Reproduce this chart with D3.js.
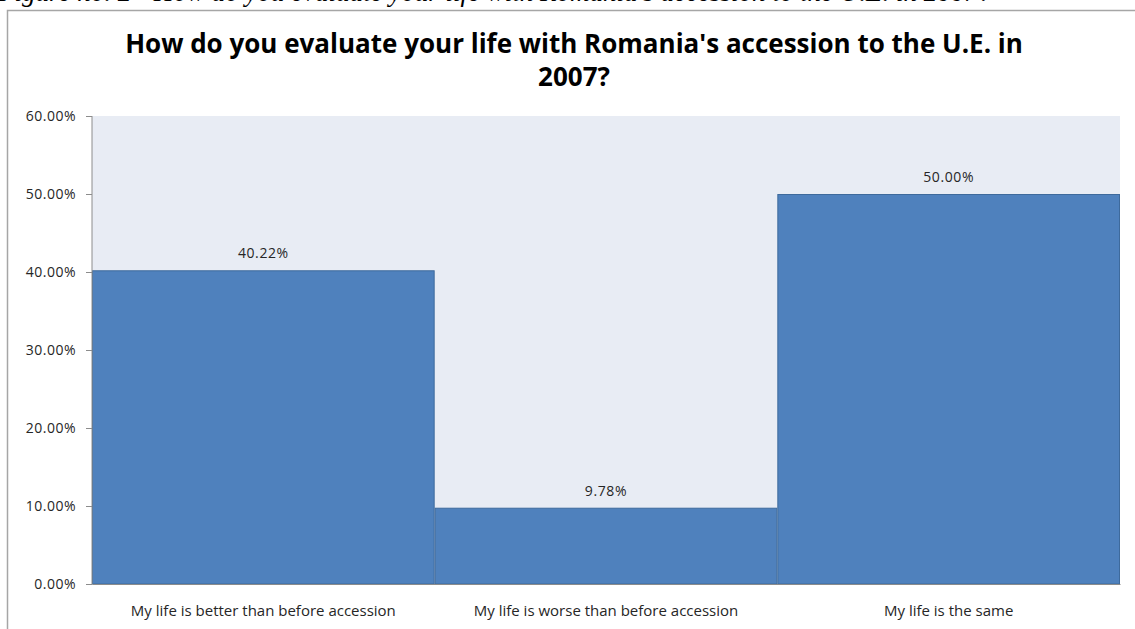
<!DOCTYPE html>
<html lang="en">
<head>
<meta charset="UTF-8" />
<script src="https://d3js.org/d3.v7.min.js"></script>
<style>
  html, body { margin: 0; padding: 0; background: #fff; }
  svg { display: block; }
</style>
</head>
<body>
<svg id="chart" width="1135" height="629"></svg>
<script>
// data
var categories = ["My life is better than before accession", "My life is worse than before accession", "My life is the same"];
var values = [40.22, 9.78, 50.00];
var yTicks = [0, 10, 20, 30, 40, 50, 60];
var titleLines = ["How do you evaluate your life with Romania's accession to the U.E. in", "2007?"];
var caption = "Figure no. 2 - How do you evaluate your life with Romania's accession to the U.E. in 2007?";

var svg = d3.select("#chart");
var font = "'Open Sans', Calibri, sans-serif";

// caption of the document, cut by the top of the page like in the source
svg.append("text")
  .attr("x", -2).attr("y", 0.5)
  .style("font-family", "'Liberation Serif', serif")
  .style("font-style", "italic")
  .style("font-size", "27px")
  .attr("fill", "#000")
  .text(caption);

// chart frame
svg.append("rect")
  .attr("x", 7.5).attr("y", 10.5)
  .attr("width", 1140).attr("height", 640)
  .attr("fill", "#fff")
  .attr("stroke", "#a6a6a6")
  .attr("stroke-width", 1.5);

var margin = {left: 92, top: 116, right: 1120, bottom: 584};

var x = d3.scaleBand().domain(categories).range([margin.left, margin.right]).padding(0);
var y = d3.scaleLinear().domain([0, 60]).range([margin.bottom, margin.top]);

// plot background
svg.append("rect")
  .attr("x", margin.left).attr("y", margin.top)
  .attr("width", margin.right - margin.left)
  .attr("height", margin.bottom - margin.top)
  .attr("fill", "#e8ecf4");

// bars
svg.append("g").selectAll("rect")
  .data(values)
  .join("rect")
    .attr("x", (d, i) => x(categories[i]) + 0.5)
    .attr("y", d => y(d) + 0.5)
    .attr("width", x.bandwidth() - 1)
    .attr("height", d => y(0) - y(d) - 0.5)
    .attr("fill", "#4f81bd")
    .attr("stroke", "#3e6a9c")
    .attr("stroke-width", 1);

// value labels
svg.append("g").selectAll("text")
  .data(values)
  .join("text")
    .attr("x", (d, i) => x(categories[i]) + x.bandwidth() / 2)
    .attr("y", d => y(d) - 12)
    .attr("text-anchor", "middle")
    .style("font-family", font)
    .style("font-size", "14px")
    .style("letter-spacing", "0.6px")
    .attr("fill", "#262626")
    .text(d => d.toFixed(2) + "%");

// y axis
var yAxis = svg.append("g")
  .attr("transform", "translate(" + margin.left + ",0)")
  .call(d3.axisLeft(y).tickValues(yTicks).tickSize(6).tickPadding(10)
    .tickFormat(d => d.toFixed(2) + "%"));
yAxis.select(".domain").attr("stroke", "#8c8c8c").attr("d", "M0," + margin.top + "V" + margin.bottom);
yAxis.selectAll(".tick line").attr("stroke", "#8c8c8c");
yAxis.selectAll(".tick text")
  .style("font-family", font)
  .style("font-size", "14px")
  .style("letter-spacing", "0.5px")
  .attr("fill", "#262626");

// x axis
var xAxis = svg.append("g")
  .attr("transform", "translate(0," + margin.bottom + ")")
  .call(d3.axisBottom(x).tickSize(0).tickPadding(21));
xAxis.select(".domain").attr("stroke", "#8c8c8c");
xAxis.selectAll(".tick text")
  .style("font-family", font)
  .style("font-size", "15px")
  .attr("fill", "#262626");

// title
svg.append("g").selectAll("text")
  .data(titleLines)
  .join("text")
    .attr("x", 574)
    .attr("y", (d, i) => 53 + i * 33)
    .attr("text-anchor", "middle")
    .style("font-family", font)
    .style("font-weight", "bold")
    .style("font-size", "26px")
    .attr("fill", "#000")
    .text(d => d);
</script>
</body>
</html>
